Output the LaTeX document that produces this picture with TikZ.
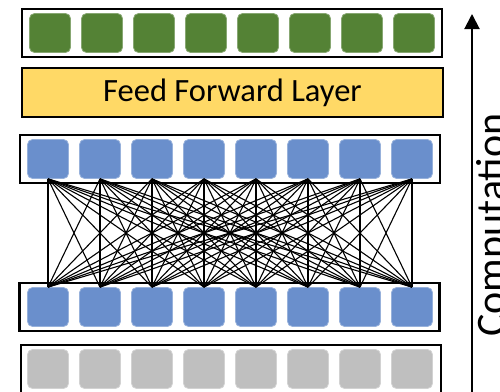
\documentclass[tikz,border=0pt]{standalone}
\usepackage{fontspec}
\setmainfont{Carlito}
\usetikzlibrary{arrows.meta}
\definecolor{cgreen}{HTML}{548235}
\definecolor{cblue}{HTML}{6A8FCC}
\definecolor{cgray}{HTML}{BFBFBF}
\definecolor{cyellow}{HTML}{FFD966}
\begin{document}
\begin{tikzpicture}[x=1pt,y=-1pt,
  cell/.style={rectangle, rounded corners=5pt, minimum width=41pt, minimum height=39pt, inner sep=0pt, line width=0.8pt},
  rowbox/.style={rectangle, draw=black, line width=2.2pt, minimum width=420pt, minimum height=48pt, inner sep=0pt},
  link/.style={line width=1.1pt, black}]
\useasboundingbox (0,0) rectangle (500,391);
% row boxes
\node[rowbox] (gbox) at (232,33) {};
\node[rectangle, draw=black, line width=1.8pt, fill=cyellow, minimum width=421pt, minimum height=49pt, inner sep=0pt,
  font=\fontsize{32.5}{38}\selectfont] (ff) at (232.5,92.5) {Feed Forward Layer};
\node[rowbox] (tbox) at (230,159) {};
\node[rowbox] (bbox) at (229.5,307) {};
\node[rowbox] (ybox) at (231,369) {};
% cells
\foreach \i in {1,...,8} {
  \node[cell, fill=cgreen, draw=cgreen!70!white] (g\i) at ({50+52*(\i-1)},33) {};
  \node[cell, fill=cblue, draw=cblue!70!white] (t\i) at ({48+52*(\i-1)},159) {};
  \node[cell, fill=cblue, draw=cblue!70!white] (b\i) at ({48+52*(\i-1)},307) {};
  \node[cell, fill=cgray, draw=cgray!70!white] (y\i) at ({48+52*(\i-1)},369) {};
}
% all-to-all links
\foreach \i in {1,...,8} {
  \foreach \j in {1,...,8} {
    \draw[link] (t\i.south) -- (b\j.north);
  }
}
% computation arrow
\coordinate (abot) at (472,395);
\coordinate (atop) at (472,14);
\draw[line width=2pt, -{Triangle[length=15pt,width=15pt]}] (abot) -- (atop);
\node[rotate=90, anchor=base, inner sep=0pt, font=\fontsize{42}{50}\selectfont] (comp) at (505,225) {Computation};
\end{tikzpicture}
\end{document}
